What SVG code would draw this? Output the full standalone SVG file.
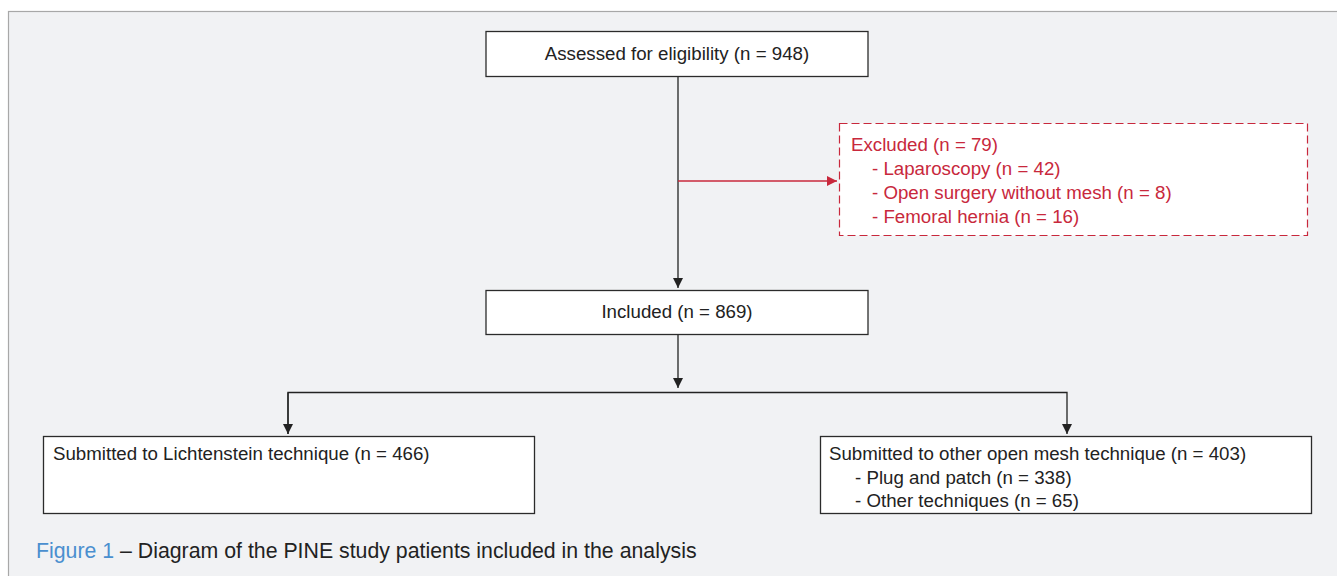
<svg xmlns="http://www.w3.org/2000/svg" width="1337" height="576" viewBox="0 0 1337 576">
<defs>
<style>
.box{fill:#fff;stroke:#2b2b2b;stroke-width:1.3}
.dash{fill:#fff;stroke:#c8283c;stroke-width:1.2;stroke-dasharray:8 4}
.t{font-family:"Liberation Sans",Arial,sans-serif;font-size:18.7px;fill:#222}
.r{font-family:"Liberation Sans",Arial,sans-serif;font-size:18.7px;fill:#c8283c}
.ln{stroke:#222;stroke-width:1.3;fill:none}
.lr{stroke:#c8283c;stroke-width:1.3;fill:none}
</style>
<marker id="ak" viewBox="0 0 10 10" refX="10" refY="5" markerWidth="10" markerHeight="10" markerUnits="userSpaceOnUse" orient="auto"><path d="M0,0 L10,5 L0,10 z" fill="#222"/></marker>
<marker id="ar" viewBox="0 0 10 10" refX="10" refY="5" markerWidth="10" markerHeight="10" markerUnits="userSpaceOnUse" orient="auto"><path d="M0,0 L10,5 L0,10 z" fill="#c8283c"/></marker>
</defs>
<rect x="0" y="0" width="1337" height="576" fill="#fff"/>
<rect x="8.5" y="11.5" width="1340" height="580" fill="#f1f2f4" stroke="#a8a8a8" stroke-width="1.2"/>
<g id="connectors">
<line class="ln" x1="678" y1="76" x2="678" y2="288" marker-end="url(#ak)"/>
<line class="lr" x1="678" y1="181" x2="837" y2="181" marker-end="url(#ar)"/>
<line class="ln" x1="678" y1="334" x2="678" y2="388" marker-end="url(#ak)"/>
<polyline class="ln" points="288,434 288,392.5 1067,392.5 1067,434" marker-end="url(#ak)"/>
<line class="ln" x1="288" y1="392.5" x2="288" y2="434" marker-end="url(#ak)"/>
</g>
<g id="assessed">
<rect class="box" x="486" y="31.5" width="382" height="45"/>
<text class="t" x="677" y="60" text-anchor="middle">Assessed for eligibility (n = 948)</text>
</g>
<g id="excluded">
<rect class="dash" x="839.5" y="123.5" width="468" height="112"/>
<text class="r" x="851" y="151">Excluded (n = 79)</text>
<text class="r" x="872" y="175">- Laparoscopy (n = 42)</text>
<text class="r" x="872" y="199">- Open surgery without mesh (n = 8)</text>
<text class="r" x="872" y="223">- Femoral hernia (n = 16)</text>
</g>
<g id="included">
<rect class="box" x="486" y="290.5" width="382" height="44"/>
<text class="t" x="677" y="318" text-anchor="middle">Included (n = 869)</text>
</g>
<g id="lichtenstein">
<rect class="box" x="43.5" y="436.5" width="491" height="77"/>
<text class="t" x="53" y="460">Submitted to Lichtenstein technique (n = 466)</text>
</g>
<g id="other">
<rect class="box" x="820.5" y="436.5" width="491" height="77"/>
<text class="t" x="829" y="460">Submitted to other open mesh technique (n = 403)</text>
<text class="t" x="855" y="484">- Plug and patch (n = 338)</text>
<text class="t" x="855" y="507">- Other techniques (n = 65)</text>
</g>
<g id="caption">
<text x="36" y="558" font-family="'Liberation Sans',Arial,sans-serif" font-size="21.3" fill="#222"><tspan fill="#4a8fcf">Figure 1</tspan> – Diagram of the PINE study patients included in the analysis</text>
</g>
</svg>
